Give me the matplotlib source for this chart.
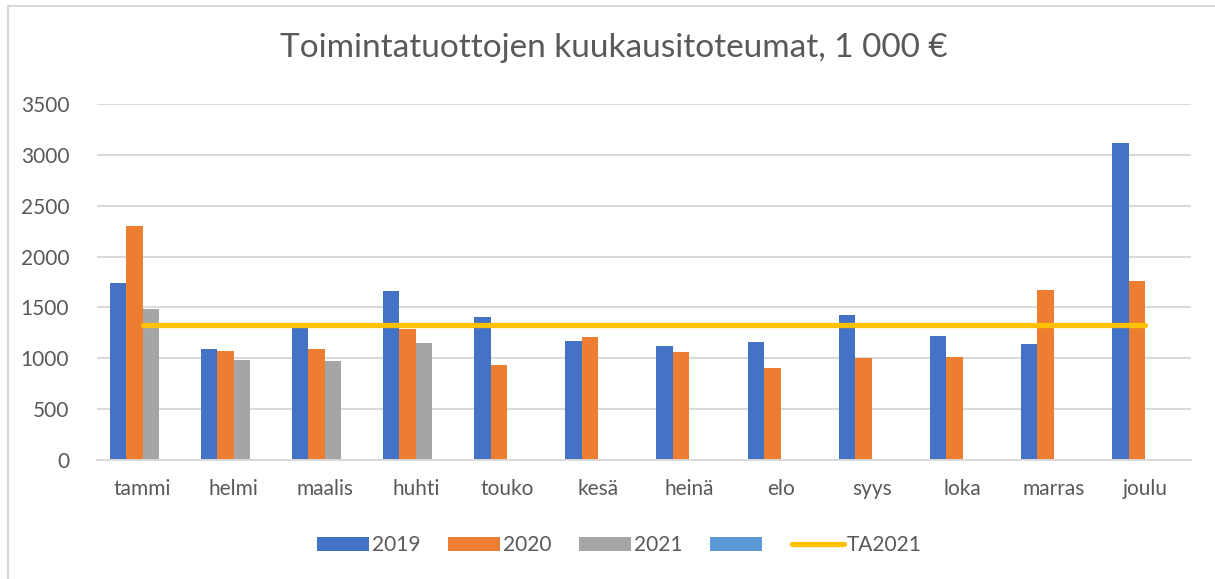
import numpy as np
import matplotlib
matplotlib.use("Agg")
import matplotlib.pyplot as plt
from matplotlib.patches import Rectangle

plt.rcParams['font.family'] = ['Lato', 'DejaVu Sans']

months = ["tammi", "helmi", "maalis", "huhti", "touko", "kesä",
          "heinä", "elo", "syys", "loka", "marras", "joulu"]
v2019 = [1737, 1091, 1320, 1662, 1409, 1170, 1118, 1157, 1423, 1216, 1144, 3120]
v2020 = [2304, 1068, 1095, 1285, 931, 1206, 1059, 905, 1006, 1016, 1672, 1760]
v2021 = [1485, 980, 970, 1147, None, None, None, None, None, None, None, None]
v_empty = [None] * 12
ta2021 = [1327] * 12

series = [("2019", v2019, "#4472C4"),
          ("2020", v2020, "#ED7D31"),
          ("2021", v2021, "#A5A5A5"),
          ("", v_empty, "#5B9BD5")]

fig = plt.figure(figsize=(12.15, 5.79), dpi=100)
ax = fig.add_axes([0.0798, 0.2055, 0.9002, 0.615])

x = np.arange(len(months))
w = 0.181
handles = []
for i, (name, vals, col) in enumerate(series):
    vals = np.array([np.nan if v is None else v for v in vals], dtype=float)
    b = ax.bar(x + (i - 1.5) * w, vals, width=w, color=col, label=name, zorder=2)
    handles.append(b)

ln, = ax.plot(x, ta2021, color="#FFC000", lw=3.8, solid_capstyle="round", zorder=3)
handles.append(ln)

ax.set_xlim(-0.5, 11.5)
ax.set_ylim(0, 3500)
ax.set_yticks(range(0, 3501, 500))
ax.set_xticks(x)
ax.set_xticklabels(months)
ax.grid(axis="y", color="#D9D9D9", lw=1.4, zorder=0)
for s in ["top", "right", "left"]:
    ax.spines[s].set_visible(False)
ax.spines["bottom"].set_color("#D9D9D9")
ax.spines["bottom"].set_linewidth(1.4)
ax.tick_params(axis="both", length=0, labelsize=15, labelcolor="#595959")
ax.tick_params(axis="x", pad=14)
ax.tick_params(axis="y", pad=20)

fig.text(0.505, 0.917, "Toimintatuottojen kuukausitoteumat, 1 000 €",
         ha="center", va="center", fontsize=24, color="#595959")

fig.legend(handles, ["2019", "2020", "2021", "", "TA2021"], loc="center",
           bbox_to_anchor=(0.51, 0.058), ncol=5, frameon=False, fontsize=15,
           handlelength=2.5, handleheight=0.6, handletextpad=0.15,
           columnspacing=1.3, labelcolor="#595959")

fig.patches.append(Rectangle((8 / 1215, -0.1), 1.2, 1 - 6 / 579 + 0.1,
                             transform=fig.transFigure, fill=False,
                             edgecolor="#D9D9D9", lw=1.5, zorder=0))

fig.savefig("out.png", dpi=100)
